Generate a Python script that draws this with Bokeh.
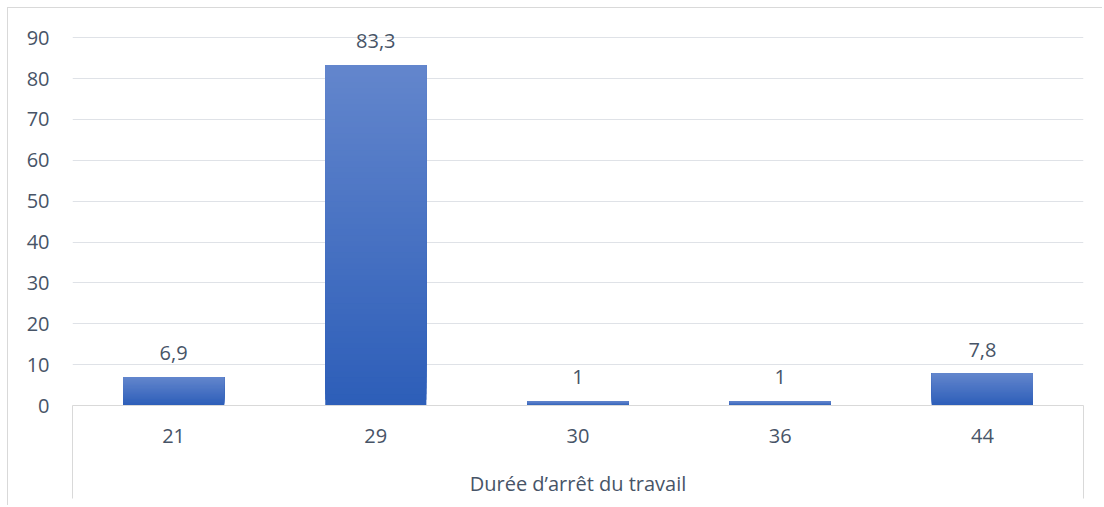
from bokeh.plotting import figure
from bokeh.models import Range1d, FixedTicker, ColumnDataSource
from bokeh.core.properties import value
from bokeh.embed import file_html
from bokeh.resources import INLINE

categories = ["21", "29", "30", "36", "44"]
values = [6.9, 83.3, 1, 1, 7.8]
y_ticks = [0, 10, 20, 30, 40, 50, 60, 70, 80, 90]
x_title = "Durée d’arrêt du travail"

FONT = "Open Sans"
FS = "20px"
TXT = "#475467"
GRID = "#dfe2e7"
TOP_RGB = (99, 134, 205)
BOT_RGB = (46, 95, 185)

# a little headroom above 90 so the top value label is not clipped
p = figure(width=1095, height=498, output_backend="svg", toolbar_location=None,
           x_range=Range1d(0, len(categories)), y_range=Range1d(0, 94.2),
           min_border_left=64, min_border_right=20, min_border_top=12, min_border_bottom=101,
           styles={"margin-left": "7px", "margin-top": "7px",
                   "border-left": "1px solid #d9d9d9", "border-top": "1px solid #d9d9d9"})
p.outline_line_color = None
p.background_fill_color = "white"
p.border_fill_color = "white"

# gradient bars: overlapping slices, each reaching the bar top (no seams)
n = 60
lefts, rights, bottoms, tops, colors = [], [], [], [], []
for i, v in enumerate(values):
    cx = i + 0.5
    for k in range(n):
        t = k / (n - 1)
        r = int(BOT_RGB[0] + (TOP_RGB[0] - BOT_RGB[0]) * t)
        g = int(BOT_RGB[1] + (TOP_RGB[1] - BOT_RGB[1]) * t)
        b = int(BOT_RGB[2] + (TOP_RGB[2] - BOT_RGB[2]) * t)
        lefts.append(cx - 0.25)
        rights.append(cx + 0.25)
        bottoms.append(v * k / n)
        tops.append(v)
        colors.append("#%02x%02x%02x" % (r, g, b))
p.quad(left=lefts, right=rights, bottom=bottoms, top=tops, fill_color=colors, line_color=None)

labels = [("%g" % v).replace(".", ",") for v in values]
src = ColumnDataSource(dict(x=[i + 0.5 for i in range(len(values))], y=values, t=labels))
p.text(x="x", y="y", text="t", source=src, text_align="center", text_baseline="bottom",
       y_offset=-17, text_font=value(FONT), text_font_size=FS, text_color=TXT)

# y axis
p.yaxis.ticker = FixedTicker(ticks=y_ticks)
p.yaxis.axis_line_color = None
p.yaxis.major_tick_line_color = None
p.yaxis.minor_tick_line_color = None
p.yaxis.major_tick_out = 0
p.yaxis.minor_tick_out = 0
p.yaxis.major_label_standoff = 23
p.yaxis.major_label_text_font = FONT
p.yaxis.major_label_text_font_size = FS
p.yaxis.major_label_text_color = TXT
p.ygrid.ticker = FixedTicker(ticks=y_ticks)
p.ygrid.grid_line_color = GRID
p.ygrid.grid_line_width = 1
p.xgrid.grid_line_color = None

# x axis: labels at category centres, boundary lines as long minor ticks
centres = [i + 0.5 for i in range(len(categories))]
p.xaxis.ticker = FixedTicker(ticks=centres, minor_ticks=[0, len(categories)])
p.xaxis.major_label_overrides = {c: lab for c, lab in zip(centres, categories)}
p.xaxis.axis_line_color = "#d9d9d9"
p.xaxis.major_tick_line_color = None
p.xaxis.major_tick_out = 0
p.xaxis.major_tick_in = 0
p.xaxis.minor_tick_line_color = "#d9d9d9"
p.xaxis.minor_tick_out = 93
p.xaxis.minor_tick_in = 0
p.xaxis.major_label_standoff = -70
p.xaxis.major_label_text_font = FONT
p.xaxis.major_label_text_font_size = FS
p.xaxis.major_label_text_color = TXT
p.xaxis.axis_label = x_title
p.xaxis.axis_label_standoff = 24
p.xaxis.axis_label_text_font = FONT
p.xaxis.axis_label_text_font_size = FS
p.xaxis.axis_label_text_font_style = "normal"
p.xaxis.axis_label_text_color = TXT

open("out.html", "w").write(file_html(p, INLINE))
